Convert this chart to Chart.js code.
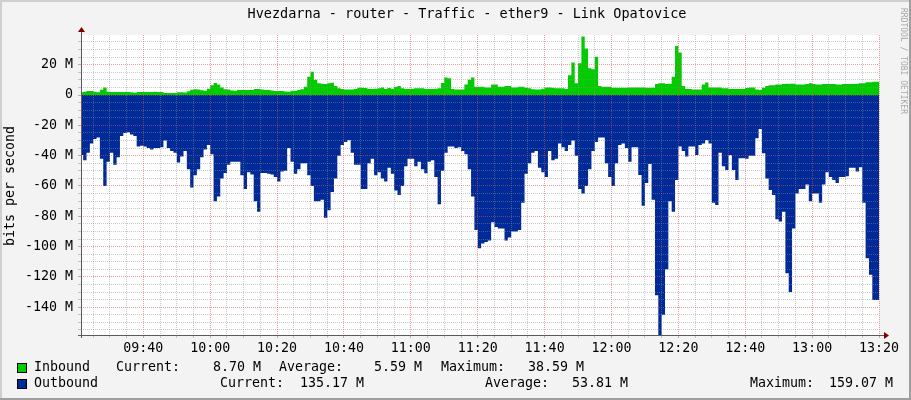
<!DOCTYPE html>
<html><head><meta charset="utf-8">
<script src="https://cdn.jsdelivr.net/npm/chart.js@4.4.1/dist/chart.umd.min.js"></script>
<style>html,body{margin:0;padding:0;background:#f3f3f3;}canvas{display:block}</style>
</head><body>
<canvas id="c" width="911" height="400"></canvas>
<script>
// ---- data (one value per minute bin, bins start at 09:21) ----
const chartTitle = 'Hvezdarna - router - Traffic - ether9 - Link Opatovice';
const yAxisTitle = 'bits per second';
const watermark = 'RRDTOOL / TOBI OETIKER';
const dayStartMinute = 9 * 60 + 20;      // 09:20
const firstBin = 1;                       // first bin starts 09:21
const viewStart = 1.35, viewEnd = 240;    // visible range in minutes after 09:20
const yMin = -158.3, yMax = 39.6;
const xLabelStep = 20, yLabelStep = 20, minorStep = 5;

const inbound = [
1.8,1.8,2.2,2.6,2.6,2.2,1.8,3.5,5,2.2,
2,2,2,2,2,2,1.8,1.5,2,2,
2,2,2,2.1,2,2,1.3,1.3,1.3,1.4,
1.8,1.8,1.6,2.5,3.5,3.8,3.7,3.2,2.9,4.2,
6.5,8,7,5,3.8,3.7,3,2.9,3.3,3.3,
3.3,3.3,3.3,4,4,3.7,3.3,3.3,3,2.6,
2.6,2.6,2.3,2.2,2.8,2.9,3.3,3.8,5.5,12,
15.4,10,7.7,7.5,7.2,7.8,8.1,6,4.4,4,
3.7,3.7,3.7,4,4.8,4.8,4.6,4,4,4.2,
4.4,5,4,4.6,4.2,5.5,5.9,4.4,4,4,
4.2,4.4,4.4,4.4,4,4,4,4.2,4.4,8,
11.6,11,4,3.7,3.7,3.7,7,10,11.6,5.5,
5.5,5.5,5,5,7,7,5.5,5.5,5.9,5.9,
5,5,5.5,5.5,4.8,4.4,3.8,3.7,3.7,4.2,
5,5,4.8,4.4,4.4,4.4,4,13,21.5,
7.7,21,38.59,30.7,17.6,17,25.3,5.9,5.5,5.5,
5.5,4.8,4.8,4.8,4.8,4.8,5,5,5,5,
5,4.8,4.8,4.8,7.2,7.7,7.7,7.2,7.5,12,
32.3,28,6,4,4,3.7,3.7,3.7,7,8.3,
5,5,5,5,4.4,4.4,4,4,4,4,
4,4.6,5,5,3.7,3.3,4.8,5.9,6.4,6.4,
7,7,7.2,7.5,7.5,7.5,7,7,7,7.2,
7.7,7.2,7,7,7.2,7.2,7.2,7.2,7,7,
7.2,7.2,7.2,7.2,7.5,7.7,7.7,8.5,8.5,8.7
];

const outbound = [
45,39.5,43,38,32,29,28,42,60,44,
38,46,41,27,25,24.5,26,27,34,33.5,
34,35,36,35,35,34.5,30,35,37,38,
44.5,40.5,37,49,61,53,49,41,36,33,
39,70,67,55,51.5,46,44,44,44,53,
62,51,52.5,70,77,51.5,51.5,52,52.5,54,
57,50.5,50,35,44,52,49,45,45,53,
60,70,70,69,81,76,64,55,40,33,
31,29.6,38,46,46,62,62,45,42,53,
51,55,57,48,52,63,66,60,47,42,
42,47,44,49,51.6,44,43,54,72,50,
38,34,34,35,34.5,37,39,49,67,89,
101,98,97,96,84,87,88,88,96,94,
90,90,89,71,52,45,38,37,48,51,
54,37,43,42,32,34.5,37,33,30,
40,62,65,60,49,37,31,28,28,45,
54,60,45,33,32,35,44,34.5,34.5,52.7,
73,58,45.5,69,132,159.07,145,115,70,77,
56,34,37,40.6,34,34,39.5,33,32,29.6,
32,71,72.5,38,47,49.4,39.5,49.4,56,41.7,
41.7,42,40,40,28.5,22.4,38.4,55,62.6,66,
82,83.4,77,117.5,130,88,65,62,62,59,
70,65,65,71,59,51,54,56,58,54,
54,53.5,48,48,50.5,47.6,71,107.6,118.6,135.17
];

const seriesNames = ['Inbound', 'Outbound'];
const seriesColors = ['#00CC00', '#002A97'];
const statLabels = ['Current:', 'Average:', 'Maximum:'];
const inboundStats = ['8.70 M', '5.59 M', '38.59 M'];
const outboundStats = ['135.17 M', '53.81 M', '159.07 M'];

// target plot rectangle (layout)
const AREA = { left: 81, right: 879, top: 35, bottom: 335 };

// ---- build library data ----
function stepPoints(vals, sign) {
  const pts = vals.map((v, i) => ({ x: firstBin + i, y: sign * v }));
  pts.push({ x: firstBin + vals.length, y: sign * vals[vals.length - 1] });
  return pts;
}
function fmtTime(m) {
  const t = dayStartMinute + m;
  const h = Math.floor(t / 60), mm = t % 60;
  return String(h).padStart(2, '0') + ':' + String(mm).padStart(2, '0');
}
const FONT = '"DejaVu Sans Mono", monospace';
const MINOR = 'rgba(143,143,143,0.47)';
const MAJOR = 'rgba(222,80,80,0.55)';
const isMult = (v, s) => Math.abs(v / s - Math.round(v / s)) < 1e-6;

let xAxisHeight = 400 - AREA.bottom;
let yAxisWidth = AREA.left;

const decor = {
  id: 'decor',
  beforeDraw(chart) {
    const ctx = chart.ctx, a = chart.chartArea;
    ctx.save();
    ctx.fillStyle = '#f3f3f3';
    ctx.fillRect(0, 0, 911, 400);
    ctx.fillStyle = '#cfcfcf';
    ctx.fillRect(0, 0, 911, 2);
    ctx.fillRect(0, 0, 2, 400);
    ctx.fillStyle = '#9e9e9e';
    ctx.fillRect(0, 398, 911, 2);
    ctx.fillRect(909, 0, 2, 400);
    ctx.fillStyle = '#ffffff';
    ctx.fillRect(a.left, a.top, a.right - a.left, a.bottom - a.top);
    ctx.restore();
  },
  afterDraw(chart) {
    const ctx = chart.ctx, a = chart.chartArea;
    ctx.save();
    // axes
    ctx.strokeStyle = '#5a5a5a';
    ctx.lineWidth = 1;
    ctx.beginPath();
    ctx.moveTo(a.left - 3, Math.round(a.bottom) + 0.5);
    ctx.lineTo(a.right + 6, Math.round(a.bottom) + 0.5);
    ctx.moveTo(Math.round(a.left) + 0.5, a.bottom + 3);
    ctx.lineTo(Math.round(a.left) + 0.5, a.top - 4);
    ctx.stroke();
    ctx.fillStyle = '#7f0000';
    ctx.beginPath();
    const by = Math.round(a.bottom) + 0.5;
    ctx.moveTo(a.right + 5, by - 3.5); ctx.lineTo(a.right + 10, by); ctx.lineTo(a.right + 5, by + 3.5); ctx.closePath();
    ctx.fill();
    const lx = Math.round(a.left) + 0.5;
    ctx.beginPath();
    ctx.moveTo(lx - 3.5, a.top - 3); ctx.lineTo(lx, a.top - 8); ctx.lineTo(lx + 3.5, a.top - 3); ctx.closePath();
    ctx.fill();

    // title
    ctx.fillStyle = '#000';
    ctx.textBaseline = 'middle';
    ctx.textAlign = 'center';
    ctx.font = '13.5px ' + FONT;
    ctx.fillText(chartTitle, 467, 14);

    // y axis title
    ctx.save();
    ctx.translate(11, 186);
    ctx.rotate(-Math.PI / 2);
    ctx.font = '13.3px ' + FONT;
    ctx.fillText(yAxisTitle, 0, 0);
    ctx.restore();

    // watermark
    ctx.save();
    ctx.translate(903, 8);
    ctx.rotate(Math.PI / 2);
    ctx.textAlign = 'left';
    ctx.font = '8px ' + FONT;
    ctx.fillStyle = '#a8a8a8';
    ctx.fillText(watermark, 0, 0);
    ctx.restore();

    // legend
    ctx.font = '13.3px ' + FONT;
    const rows = [
      { y: 368, name: seriesNames[0], color: seriesColors[0], stats: inboundStats,
        lab: [116, 279, 441], val: [261, 422, 584] },
      { y: 384, name: seriesNames[1], color: seriesColors[1], stats: outboundStats,
        lab: [220, 485, 750], val: [364, 628, 893] }
    ];
    rows.forEach(r => {
      ctx.fillStyle = r.color;
      ctx.fillRect(17, r.y - 5, 10, 10);
      ctx.strokeStyle = '#000';
      ctx.strokeRect(17.5, r.y - 4.5, 9, 9);
      ctx.fillStyle = '#000';
      ctx.textAlign = 'left';
      ctx.fillText(r.name, 34, r.y);
      for (let i = 0; i < 3; i++) {
        ctx.textAlign = 'left';
        ctx.fillText(statLabels[i], r.lab[i], r.y);
        ctx.textAlign = 'right';
        ctx.fillText(r.stats[i], r.val[i], r.y);
      }
    });
    ctx.restore();
  }
};

const gridColor = step => c => {
  const v = c.tick ? c.tick.value : 0;
  return isMult(v, step) ? MAJOR : (isMult(v, minorStep) ? MINOR : 'rgba(0,0,0,0)');
};

const chart = new Chart(document.getElementById('c'), {
  type: 'line',
  data: {
    datasets: [
      { label: seriesNames[0], data: stepPoints(inbound, 1), stepped: 'after', fill: 'origin',
        backgroundColor: seriesColors[0], borderColor: 'rgba(0,0,0,0)', borderWidth: 0, pointRadius: 0 },
      { label: seriesNames[1], data: stepPoints(outbound, -1), stepped: 'after', fill: 'origin',
        backgroundColor: seriesColors[1], borderColor: 'rgba(0,0,0,0)', borderWidth: 0, pointRadius: 0 }
    ]
  },
  options: {
    responsive: false,
    animation: false,
    devicePixelRatio: 1,
    layout: { padding: { left: 0, top: AREA.top, right: 911 - AREA.right, bottom: 0 } },
    plugins: { legend: { display: false }, title: { display: false }, tooltip: { enabled: false } },
    scales: {
      x: {
        type: 'linear', min: viewStart, max: viewEnd,
        afterFit: s => { s.height = xAxisHeight; },
        afterBuildTicks: s => {
          const t = [];
          for (let m = Math.ceil(viewStart / minorStep) * minorStep; m <= viewEnd; m += minorStep) t.push({ value: m });
          s.ticks = t;
        },
        ticks: {
          autoSkip: false, maxRotation: 0, padding: 3, color: '#000',
          font: { family: 'DejaVu Sans Mono', size: 13.3 },
          callback: v => (isMult(v, xLabelStep) ? fmtTime(v) : '')
        },
        grid: { z: 1, color: gridColor(xLabelStep), tickColor: gridColor(xLabelStep), tickLength: 3, lineWidth: 1 },
        border: { display: false, dash: [1, 1] }
      },
      y: {
        type: 'linear', min: yMin, max: yMax,
        afterFit: s => { s.width = yAxisWidth; },
        afterBuildTicks: s => {
          const t = [];
          for (let v = Math.ceil(yMin / minorStep) * minorStep; v <= yMax; v += minorStep) t.push({ value: v });
          s.ticks = t;
        },
        ticks: {
          autoSkip: false, padding: 5, color: '#000',
          font: { family: 'DejaVu Sans Mono', size: 13.3 },
          callback: v => (isMult(v, yLabelStep) ? (v === 0 ? '0' : v + ' M') : '')
        },
        grid: { z: 1, color: gridColor(yLabelStep), tickColor: gridColor(yLabelStep), tickLength: 3, lineWidth: 1 },
        border: { display: false, dash: [1, 1] }
      }
    }
  },
  plugins: [decor]
});

// calibrate the layout so the plot rectangle lands where the reference has it
for (let k = 0; k < 3; k++) {
  const a = chart.chartArea;
  const pad = chart.options.layout.padding;
  pad.top += AREA.top - a.top;
  xAxisHeight += a.bottom - AREA.bottom;
  yAxisWidth += AREA.left - a.left;
  pad.right += a.right - AREA.right;
  chart.update('none');
}
</script>
</body></html>
